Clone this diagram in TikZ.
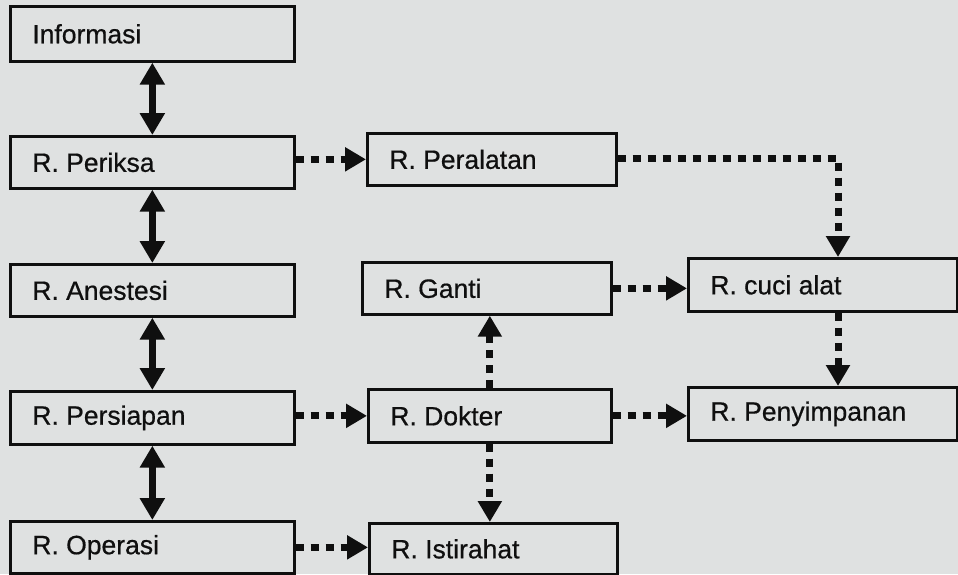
\documentclass[tikz,border=0pt]{standalone}
\usepackage{fontspec}
\setmainfont{Liberation Sans}
\newfontfamily\roomfont{Liberation Sans}[FakeBold=0.6]
\usetikzlibrary{arrows.meta,calc}

\definecolor{paper}{RGB}{223,225,225}
\definecolor{ink}{RGB}{15,15,15}

\tikzset{
  room/.style={draw=ink, line width=2.7pt, rectangle, anchor=north west,
    inner xsep=0pt, inner ysep=0pt, text=ink,
    font=\roomfont\fontsize{26.5}{29}\selectfont},
  both/.style={line width=7.5pt, draw=ink,
    {Triangle[width=24pt,length=22pt]}-{Triangle[width=24pt,length=22pt]}},
  flow/.style={line width=7pt, draw=ink, dash pattern=on 8pt off 7pt,
    -{Triangle[width=23pt,length=21pt]}}
}

% room box: name, top-left x, top-left y, width, height, label
\newcommand\roombox[6]{%
  \node[room, minimum width=#4pt, minimum height=#5pt] (#1) at (#2,#3)
    {\makebox[#4pt][l]{\hspace{22pt}#6}};}

\begin{document}
\begin{tikzpicture}[x=1pt,y=-1pt]
  \fill[paper] (0,0) rectangle (958,574);
  \useasboundingbox (0,0) rectangle (958,574);

  % left column
  \roombox{inf}{9}{5}{284}{55}{Informasi}
  \roombox{per}{9}{135}{284}{52}{R. Periksa}
  \roombox{ane}{9}{263}{284}{52}{R. Anestesi}
  \roombox{psp}{9}{390}{284}{53}{R. Persiapan}
  \roombox{ope}{9}{520}{284}{52}{R. Operasi}

  % middle column
  \roombox{pal}{366}{132}{249}{52}{R. Peralatan}
  \roombox{gan}{361}{261}{249}{52}{R. Ganti}
  \roombox{dok}{367}{388}{243}{53}{R. Dokter}
  \roombox{ist}{368}{522}{248}{51}{R. Istirahat}

  % right column
  \roombox{cuc}{687}{257}{269}{53}{R. cuci alat}
  \roombox{pny}{687}{386}{269}{53}{R. Penyimpanan}

  % two-way links along the left column
  \draw[both] (inf.south) -- (per.north);
  \draw[both] (per.south) -- (ane.north);
  \draw[both] (ane.south) -- (psp.north);
  \draw[both] (psp.south) -- (ope.north);

  % one-way flows
  \coordinate (turn) at (838,158);
  \draw[flow] (pal.west -| per.east) -- (pal.west);
  \draw[flow] (dok.west -| psp.east) -- (dok.west);
  \draw[flow] (ope.east) -- (ope.east -| ist.west);
  \draw[flow] (pal.east |- turn) -- (turn) -- (turn |- cuc.north);
  \draw[flow] (gan.east) -- (gan.east -| cuc.west);
  \draw[flow] (cuc.south -| turn) -- (pny.north -| turn);
  \draw[flow] (dok.east) -- (dok.east -| pny.west);
  \draw[flow] (dok.north) -- (gan.south -| dok.north);
  \draw[flow] (dok.south) -- (ist.north -| dok.south);
\end{tikzpicture}
\end{document}
